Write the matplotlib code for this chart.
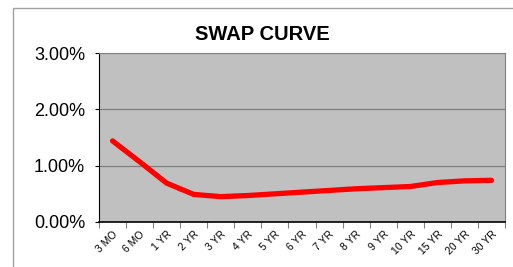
import matplotlib.pyplot as plt
from matplotlib.patches import Rectangle
from matplotlib.ticker import FuncFormatter, FixedLocator

tenors = ["3 MO", "6 MO", "1 YR", "2 YR", "3 YR", "4 YR", "5 YR", "6 YR",
          "7 YR", "8 YR", "9 YR", "10 YR", "15 YR", "20 YR", "30 YR"]
rates = [1.44, 1.07, 0.69, 0.49, 0.45, 0.47, 0.50, 0.53,
         0.56, 0.59, 0.61, 0.63, 0.70, 0.73, 0.74]

plt.rcParams['font.family'] = ['Liberation Sans', 'DejaVu Sans']

fig = plt.figure(figsize=(5.13, 2.67), dpi=100)
# outer chart border
fig.patches.append(Rectangle((13 / 513, -0.1), 1.2, (267 - 8) / 267 + 0.1,
                             transform=fig.transFigure, fill=False,
                             edgecolor="#a0a0a0", linewidth=1))

ax = fig.add_axes([99 / 513, 1 - 222 / 267, (505 - 99) / 513, (222 - 53) / 267])
x = list(range(len(tenors)))
ax.plot(x, rates, color="#ff0000", linewidth=3.8, solid_capstyle="round",
        solid_joinstyle="round")

ax.set_facecolor("#c0c0c0")
ax.set_xlim(-0.5, len(tenors) - 0.5)
ax.set_ylim(0, 3)
ax.set_yticks([0, 1, 2, 3])
ax.yaxis.set_major_formatter(FuncFormatter(lambda v, p: f"{v:.2f}%"))
ax.tick_params(axis="y", labelsize=13, length=3, width=0.8, pad=7)
ax.grid(axis="y", color="#808080", linewidth=0.9)
ax.set_axisbelow(True)

ax.set_xticks(x)
ax.set_xticklabels(tenors, rotation=45, ha="right", rotation_mode="anchor",
                   fontsize=7.5)
ax.tick_params(axis="x", which="major", length=0, pad=5)
ax.xaxis.set_minor_locator(FixedLocator([i - 0.5 for i in range(len(tenors) + 1)]))
ax.tick_params(axis="x", which="minor", length=4, width=0.8, color="#808080")

ax.spines["left"].set_color("black")
ax.spines["bottom"].set_color("black")
ax.spines["bottom"].set_linewidth(1.2)
ax.spines["top"].set_color("#808080")
ax.spines["right"].set_color("#808080")

fig.text(262 / 513, 1 - 35 / 267, "SWAP CURVE", ha="center", va="center",
         fontsize=14.5, fontweight="bold")

fig.savefig("out.png", dpi=100)
